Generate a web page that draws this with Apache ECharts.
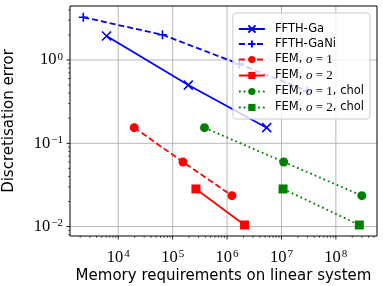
<!DOCTYPE html>
<html>
<head>
<meta charset="utf-8">
<script src="https://cdn.jsdelivr.net/npm/echarts@6/dist/echarts.min.js"></script>
<style>html,body{margin:0;padding:0;background:#fff}#c{width:383px;height:286px}</style>
</head>
<body>
<div id="c"></div>
<script>
// ---- data ----
const seriesNames = ['FFTH-Ga', 'FFTH-GaNi', 'FEM, o = 1', 'FEM, o = 2', 'FEM, o = 1, chol', 'FEM, o = 2, chol'];
const gaX = [6.1e3, 1.94e5, 5.35e6];
const gaY = [1.94, 0.50, 0.154];
const ganiX = [2.28e3, 6.5e4, 1.67e6, 3.0e7];
const ganiY = [3.26, 2.01, 0.895, 0.425];
const fem1X = [1.97e4, 1.55e5, 1.23e6];
const fem1Y = [0.154, 0.0597, 0.0235];
const fem2X = [2.68e5, 2.1e6];
const fem2Y = [0.0283, 0.01045];
const chol1X = [3.85e5, 1.1e7, 3.0e8];
const chol1Y = [0.154, 0.0597, 0.0235];
const chol2X = [1.07e7, 2.7e8];
const chol2Y = [0.0283, 0.01045];
const xMajorTicks = [1e4, 1e5, 1e6, 1e7, 1e8];
const yMajorTicks = [1e-2, 1e-1, 1e0];

const X_MIN = 1300, X_MAX = 5.7e8;
const Y_MIN = 0.00771, Y_MAX = 4.45;

function zip(xs, ys) { return xs.map((x, i) => [x, ys[i]]); }
function minorTicks(lo, hi) {
  const out = [];
  for (let e = Math.floor(Math.log10(lo)); e <= Math.ceil(Math.log10(hi)); e++) {
    for (let k = 2; k <= 9; k++) {
      const v = k * Math.pow(10, e);
      if (v > lo && v < hi) out.push(v);
    }
  }
  return out;
}
const xTickData = xMajorTicks.map(v => [v, Y_MIN, 1]).concat(minorTicks(X_MIN, X_MAX).map(v => [v, Y_MIN, 0]));
const yTickData = yMajorTicks.map(v => [X_MIN, v, 1]).concat(minorTicks(Y_MIN, Y_MAX).map(v => [X_MIN, v, 0]));

const BLUE = '#0000ff', RED = '#ff0000', GREEN = '#008000';
const X_SYM = 'path://M0,0L10,10M10,0L0,10';
const P_SYM = 'path://M5,0L5,10M0,5L10,5';

function powLabel(v) {
  const e = Math.log10(v);
  const r = Math.round(e);
  if (Math.abs(e - r) > 1e-6) return '';
  return '{b|10}{s|' + String(r).replace('-', '−') + '}';
}
const tickRich = {
  b: { fontFamily: 'Liberation Serif', fontSize: 16.5, color: '#000' },
  s: { fontFamily: 'Liberation Serif', fontSize: 11, color: '#000', verticalAlign: 'top', padding: [0, 0, 0, 1] }
};

const legendRich = {
  t: { fontFamily: 'DejaVu Sans', fontSize: 11.5, color: '#000' },
  i: { fontFamily: 'Liberation Serif', fontStyle: 'italic', fontSize: 13, color: '#000' },
  m: { fontFamily: 'Liberation Serif', fontSize: 13, color: '#000' }
};
const legendLabels = {
  'FFTH-Ga': '{t|FFTH-Ga}',
  'FFTH-GaNi': '{t|FFTH-GaNi}',
  'FEM, o = 1': '{t|FEM, }{i|o}{m| = 1}',
  'FEM, o = 2': '{t|FEM, }{i|o}{m| = 2}',
  'FEM, o = 1, chol': '{t|FEM, }{i|o}{m| = 1}{t|, chol}',
  'FEM, o = 2, chol': '{t|FEM, }{i|o}{m| = 2}{t|, chol}'
};

function lineSeries(name, data, color, type, symbol, size, isStroke) {
  return {
    name, type: 'line', data, symbol, symbolSize: size, showSymbol: true,
    z: 3,
    lineStyle: { color, width: 1.8, type },
    itemStyle: isStroke ? { color: 'rgba(0,0,0,0)', borderColor: color, borderWidth: 1.6 } : { color, borderWidth: 0 },
    emphasis: { disabled: true }, animation: false
  };
}

const chart = echarts.init(document.getElementById('c'), null, { renderer: 'canvas' });
chart.setOption({
  animation: false,
  grid: { left: 70, right: 6, top: 6, bottom: 50, containLabel: false, outerBoundsMode: 'none', show: true, borderColor: '#000', borderWidth: 1, backgroundColor: 'transparent', z: 10 },
  xAxis: {
    type: 'log', logBase: 10, min: X_MIN, max: X_MAX,
    axisLine: { show: false }, axisTick: { show: false }, splitLine: { show: false },
    axisLabel: { formatter: powLabel, rich: tickRich, margin: 13, showMinLabel: false, showMaxLabel: false, hideOverlap: false },
    name: 'Memory requirements on linear system', nameLocation: 'middle', nameGap: 33, nameMoveOverlap: false,
    nameTextStyle: { fontFamily: 'DejaVu Sans', fontSize: 15, color: '#000' }
  },
  yAxis: {
    type: 'log', logBase: 10, min: Y_MIN, max: Y_MAX,
    axisLine: { show: false }, axisTick: { show: false }, splitLine: { show: false },
    axisLabel: { formatter: powLabel, rich: tickRich, margin: 7, showMinLabel: false, showMaxLabel: false },
    name: 'Discretisation error', nameLocation: 'middle', nameGap: 53, nameMoveOverlap: false,
    nameTextStyle: { fontFamily: 'DejaVu Sans', fontSize: 15, color: '#000' }
  },
  legend: {
    right: 13, top: 13, orient: 'vertical',
    itemWidth: 26, itemHeight: 9, itemGap: 3,
    padding: [10, 6, 5, 5],
    backgroundColor: 'rgba(255,255,255,0.8)', borderColor: '#cccccc', borderWidth: 1, borderRadius: 3,
    formatter: n => legendLabels[n],
    textStyle: { rich: legendRich, padding: [0, 0, 0, 5] },
    data: seriesNames, z: 20
  },
  series: [
    {
      type: 'custom', silent: true, clip: false, z: 1, data: xTickData,
      renderItem: (params, api) => {
        const v = api.value(0), major = api.value(2);
        const b = api.coord([v, Y_MIN]);
        const t = api.coord([v, Y_MAX]);
        const ch = [{ type: 'line', shape: { x1: b[0], y1: b[1], x2: b[0], y2: b[1] + (major ? 3.5 : 2) }, style: { stroke: '#000', lineWidth: major ? 0.9 : 0.6 } }];
        if (major) ch.unshift({ type: 'line', shape: { x1: b[0], y1: b[1], x2: t[0], y2: t[1] }, style: { stroke: '#b0b0b0', lineWidth: 0.9 } });
        return { type: 'group', children: ch };
      }
    },
    {
      type: 'custom', silent: true, clip: false, z: 1, data: yTickData,
      renderItem: (params, api) => {
        const v = api.value(1), major = api.value(2);
        const l = api.coord([X_MIN, v]);
        const r = api.coord([X_MAX, v]);
        const ch = [{ type: 'line', shape: { x1: l[0], y1: l[1], x2: l[0] - (major ? 3.5 : 2), y2: l[1] }, style: { stroke: '#000', lineWidth: major ? 0.9 : 0.6 } }];
        if (major) ch.unshift({ type: 'line', shape: { x1: l[0], y1: l[1], x2: r[0], y2: r[1] }, style: { stroke: '#b0b0b0', lineWidth: 0.9 } });
        return { type: 'group', children: ch };
      }
    },
    lineSeries('FFTH-Ga', zip(gaX, gaY), BLUE, 'solid', X_SYM, 9, true),
    lineSeries('FFTH-GaNi', zip(ganiX, ganiY), BLUE, [6, 3], P_SYM, 9, true),
    lineSeries('FEM, o = 1', zip(fem1X, fem1Y), RED, [6, 3], 'circle', 9, false),
    lineSeries('FEM, o = 2', zip(fem2X, fem2Y), RED, 'solid', 'rect', 9, false),
    lineSeries('FEM, o = 1, chol', zip(chol1X, chol1Y), GREEN, [1.8, 3], 'circle', 9, false),
    lineSeries('FEM, o = 2, chol', zip(chol2X, chol2Y), GREEN, [1.8, 3], 'rect', 9, false)
  ]
});
</script>
</body>
</html>
